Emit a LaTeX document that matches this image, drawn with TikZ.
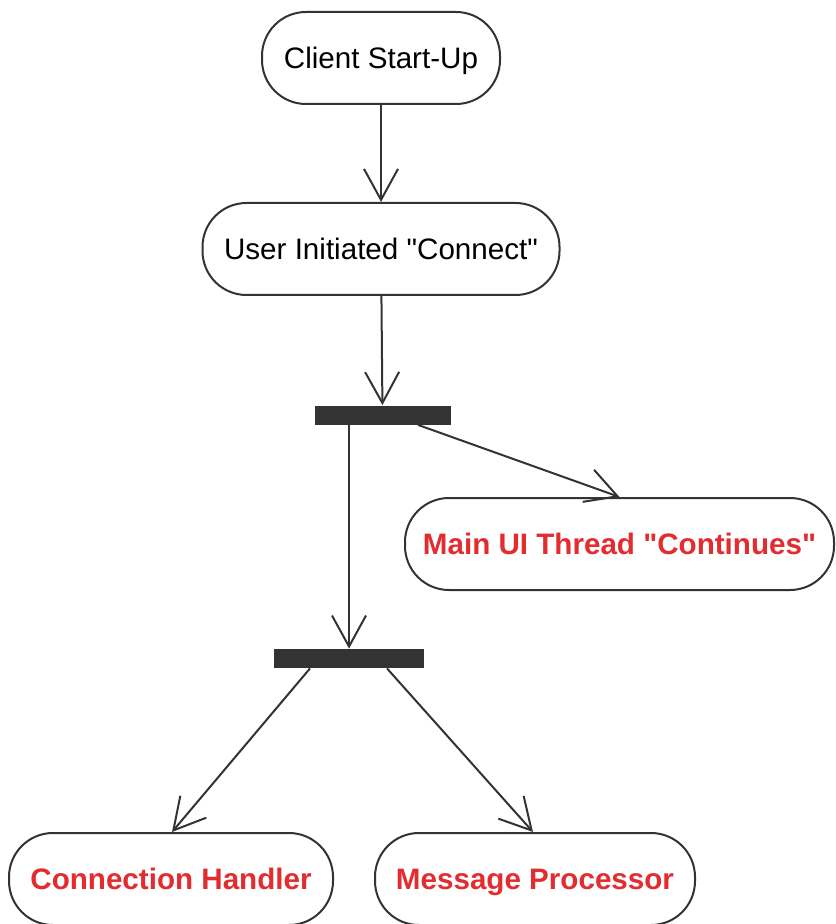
\documentclass[tikz,border=0pt]{standalone}
\usepackage{fontspec}
\newfontfamily\uifont{Liberation Sans}
\usetikzlibrary{arrows.meta}
\definecolor{dg}{HTML}{333333}
\definecolor{lbl}{RGB}{226,44,48}
\tikzset{
    activity/.style = {rectangle,
                    rounded corners=22pt,
                    fill=white,
                    draw=dg,
                    text=black,
                    line width=1pt,
                    minimum height=46pt,
                    text height=10.6pt,
                    text depth=0pt,
                    font=\uifont\fontsize{14.8}{17}\selectfont},
    thread/.style = {activity,
                    text=lbl,
                    font=\uifont\fontsize{14.8}{17}\selectfont\bfseries},
    bar/.style =    {rectangle,
                    fill=dg,
                    draw=none,
                    inner sep=0pt},
    -,
    every edge/.style = {draw=dg,
                    line width=1pt},
    >={Straight Barb[length=15.5pt,width=17pt]}}

\begin{document}
\begin{tikzpicture}[x=0.5pt,y=-0.5pt]
            \useasboundingbox (0,0) rectangle (835,924);
            \node[activity,minimum width=119pt]   (start)   at (381,58)    {Client Start-Up};
            \node[activity,minimum width=178.5pt] (connect) at (381,249)   {User Initiated "Connect"};
            \node[bar,minimum width=68pt,minimum height=9.5pt] (fork) at (382.5,415) {};
            \node[thread,minimum width=214.5pt]   (main)    at (619.5,544) {Main UI Thread "Continues"};
            \node[bar,minimum width=75pt,minimum height=9.5pt] (split) at (349,658.5) {};
            \node[thread,minimum width=162pt]     (handler) at (171,879)   {Connection Handler};
            \node[thread,minimum width=160pt]     (proc)    at (535,879)   {Message Processor};
            \path [->] (start) edge (connect)
                       (connect) edge (fork)
                       ([xshift=17.75pt]fork.south) edge (main.north)
                       ([xshift=-16.75pt]fork.south) edge ([xshift=-16.75pt]fork.south |- split.north)
                       ([xshift=-19.5pt]split.south) edge ([xshift=0.5pt]handler.north)
                       ([xshift=19pt]split.south) edge ([xshift=-1pt]proc.north);
        \end{tikzpicture}
\end{document}
